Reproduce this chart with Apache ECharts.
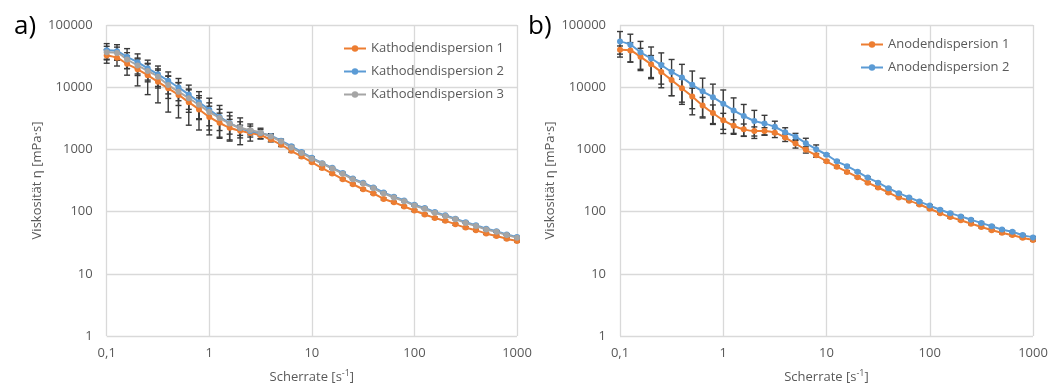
<!DOCTYPE html>
<html>
<head>
<meta charset="utf-8">
<script src="https://cdn.jsdelivr.net/npm/echarts@6/dist/echarts.min.js"></script>
<style>
  html, body { margin: 0; padding: 0; background: #fff; }
  #chart { width: 1051px; height: 389px; }
</style>
</head>
<body>
<div id="chart"></div>
<script>
// Scherrate [1/s], gleiche Messpunkte fuer alle Kurven
const shear = [0.1, 0.126, 0.158, 0.2, 0.251, 0.316, 0.398, 0.501, 0.631, 0.794,
  1, 1.26, 1.58, 2, 2.51, 3.16, 3.98, 5.01, 6.31, 7.94,
  10, 12.6, 15.8, 20, 25.1, 31.6, 39.8, 50.1, 63.1, 79.4,
  100, 126, 158, 200, 251, 316, 398, 501, 631, 794, 1000];

// a) Kathode
const kath1 = [32300, 29700, 23800, 19400, 15600, 12200, 9580, 7510, 5750, 4400,
  3330, 2670, 2230, 1990, 1840, 1690, 1440, 1190, 950, 770,
  622, 500, 410, 332, 276, 229, 196, 160, 141, 121,
  104, 90, 79, 71, 62.5, 55.3, 50.2, 44.5, 40.4, 36.6, 33.7];
const kath2 = [39200, 37800, 30800, 25300, 20100, 16100, 12700, 9930, 7600, 5750,
  4350, 3330, 2650, 2200, 1960, 1830, 1640, 1380, 1120, 905,
  735, 600, 505, 418, 340, 290, 245, 202, 174, 151,
  129, 114, 98.5, 87, 77, 67.5, 60.5, 53, 48.5, 43, 39];
const kath3 = [36500, 35600, 27900, 22400, 18200, 14700, 10800, 8480, 6650, 5210,
  4000, 3210, 2610, 2230, 2040, 1860, 1610, 1340, 1076, 874,
  710, 592, 493, 406, 330, 282, 238, 196, 169, 147,
  125, 111, 95.5, 84.7, 75, 65.6, 58.9, 51.4, 47.3, 41.9, 38];
const kath1Err = [8000, 7800, 8200, 8900, 8000, 6600, 5600, 4300, 3300, 2350,
  1620, 1160, 810, 460, 260, 200, 120, 80, 55, 40,
  25, 20, 16, 12, 10, 8, 7, 6, 5, 4.5,
  4, 3.5, 3, 2.6, 2.3, 2, 1.8, 1.6, 1.5, 1.3, 1.2];
const kath2Err = [11000, 10400, 10900, 9000, 7100, 5800, 4900, 3870, 3200, 2730,
  2300, 1760, 1290, 1010, 600, 360, 150, 80, 50, 35,
  25, 18, 14, 11, 9, 7, 6, 5, 4, 4,
  3.5, 3, 2.5, 2.2, 2, 1.8, 1.6, 1.4, 1.2, 1.1, 1];
const kath3Err = [9000, 8500, 8000, 7000, 6000, 5000, 4200, 3400, 2700, 2100,
  1600, 1200, 850, 550, 330, 220, 110, 70, 45, 30,
  22, 16, 12, 9, 7, 6, 5, 4, 3, 3,
  2.5, 2, 2, 1.5, 1.5, 1.2, 1, 1, 1, 0.8, 0.8];

// b) Anode
const anod1 = [40000, 38800, 30800, 23300, 17600, 13000, 9580, 7070, 5090, 3850,
  2950, 2400, 2100, 1970, 1970, 1860, 1550, 1240, 986, 802,
  644, 524, 435, 358, 292, 244, 203, 169, 150, 130,
  111, 94.5, 81.6, 72.4, 64, 56.7, 50.2, 45.6, 41.9, 38, 34.9];
const anod2 = [54500, 48200, 36500, 29000, 22700, 17600, 14300, 10900, 8580, 6900,
  5410, 4240, 3450, 2870, 2610, 2310, 1880, 1600, 1260, 1010,
  822, 644, 538, 437, 352, 292, 238, 198, 169, 145,
  125, 107, 94.4, 83.7, 74, 65.6, 58.2, 51.4, 47.3, 41.9, 38.5];
const anod1Err = [6000, 13300, 11400, 9000, 6400, 5700, 3830, 2560, 1760, 1330,
  850, 590, 460, 330, 260, 310, 210, 190, 113, 55,
  25, 20, 16, 12, 10, 8, 7, 6, 5, 4.5,
  4, 3.5, 3, 2.6, 2.3, 2, 1.8, 1.6, 1.5, 1.3, 1.2];
const anod2Err = [24000, 22900, 18000, 15300, 12900, 10300, 9000, 7300, 5380, 4300,
  3610, 2490, 1830, 1370, 920, 530, 350, 210, 250, 170,
  30, 22, 17, 14, 11, 9, 7, 6, 5, 4.5,
  4, 3.5, 3, 2.6, 2.3, 2, 1.8, 1.6, 1.5, 1.3, 1.2];

const ORANGE = "#ED7D31", BLUE = "#5B9BD5", GRAY = "#A5A5A5";
const TXT = "#595959", GRID = "#d9d9d9";
const FONT = "'Open Sans', sans-serif";

function pts(vals){ return shear.map((x,i)=> [x, vals[i]]); }
function errPts(vals, err){ return shear.map((x,i)=> [x, vals[i]-err[i], vals[i]+err[i]]); }

function lineSeries(name, vals, color, idx){
  return {
    name, type: "line", xAxisIndex: idx, yAxisIndex: idx,
    data: pts(vals), smooth: 0.3, showSymbol: true,
    symbol: "circle", symbolSize: 6,
    lineStyle: { color, width: 2 },
    itemStyle: { color },
    z: 3
  };
}
function errSeries(vals, err, idx){
  return {
    type: "custom", xAxisIndex: idx, yAxisIndex: idx,
    data: errPts(vals, err), z: 2, silent: true,
    renderItem: (params, api)=>{
      const x = api.value(0);
      const lo = api.coord([x, api.value(1)]);
      const hi = api.coord([x, api.value(2)]);
      const w = 3;
      const st = { stroke: "#3a3a3a", lineWidth: 1.4 };
      return { type: "group", children: [
        { type: "line", shape: { x1: lo[0], y1: lo[1], x2: hi[0], y2: hi[1] }, style: st },
        { type: "line", shape: { x1: lo[0]-w, y1: lo[1], x2: lo[0]+w, y2: lo[1] }, style: st },
        { type: "line", shape: { x1: hi[0]-w, y1: hi[1], x2: hi[0]+w, y2: hi[1] }, style: st }
      ]};
    }
  };
}

function xAx(idx){
  return {
    type: "log", gridIndex: idx, min: 0.1, max: 1000, logBase: 10,
    name: "{t|Scherrate [s}{s|-1}{t|]}", nameLocation: "middle", nameGap: 33,
    nameTextStyle: { rich: {
      t: { fontSize: 13, color: TXT, fontFamily: FONT, lineHeight: 17 },
      s: { fontSize: 9, color: TXT, fontFamily: FONT, verticalAlign: "top", lineHeight: 10 }
    }},
    axisLine: { show: false }, axisTick: { show: false },
    splitLine: { show: true, lineStyle: { color: GRID, width: 1.3 } },
    minorTick: { show: false },
    axisLabel: { color: TXT, fontSize: 13, fontFamily: FONT, margin: 11,
      formatter: v => v < 1 ? v.toFixed(1).replace(".", ",") : String(Math.round(v)) }
  };
}
function yAx(idx){
  return {
    type: "log", gridIndex: idx, min: 1, max: 100000, logBase: 10, splitNumber: 5,
    name: "Viskosität η [mPa·s]", nameLocation: "middle", nameGap: 63,
    nameTextStyle: { color: TXT, fontSize: 13, fontFamily: FONT },
    axisLine: { show: false }, axisTick: { show: false },
    splitLine: { show: true, lineStyle: { color: GRID, width: 1.3 } },
    axisLabel: { color: TXT, fontSize: 13, fontFamily: FONT, margin: 14,
      formatter: v => String(Math.round(v)) }
  };
}

const chart = echarts.init(document.getElementById("chart"));
chart.setOption({
  animation: false,
  title: [
    { text: "a)", left: 9, top: 9, textStyle: { fontSize: 26, fontWeight: "normal", color: "#000", fontFamily: FONT } },
    { text: "b)", left: 523, top: 9, textStyle: { fontSize: 26, fontWeight: "normal", color: "#000", fontFamily: FONT } }
  ],
  grid: [
    { left: 106.7, right: 534, top: 25, bottom: 48.3 },
    { left: 620, right: 18, top: 25, bottom: 48.3 }
  ],
  legend: [
    { data: ["Kathodendispersion 1", "Kathodendispersion 2", "Kathodendispersion 3"],
      orient: "vertical", left: 338, top: 35.5, itemWidth: 22, itemHeight: 8, itemGap: 7,
      textStyle: { color: TXT, fontSize: 13, fontFamily: FONT, lineHeight: 16 } },
    { data: ["Anodendispersion 1", "Anodendispersion 2"],
      orient: "vertical", left: 855, top: 31.5, itemWidth: 22, itemHeight: 8, itemGap: 7,
      textStyle: { color: TXT, fontSize: 13, fontFamily: FONT, lineHeight: 16 } }
  ],
  xAxis: [xAx(0), xAx(1)],
  yAxis: [yAx(0), yAx(1)],
  series: [
    lineSeries("Kathodendispersion 1", kath1, ORANGE, 0),
    lineSeries("Kathodendispersion 2", kath2, BLUE, 0),
    lineSeries("Kathodendispersion 3", kath3, GRAY, 0),
    errSeries(kath1, kath1Err, 0),
    errSeries(kath2, kath2Err, 0),
    errSeries(kath3, kath3Err, 0),
    lineSeries("Anodendispersion 1", anod1, ORANGE, 1),
    lineSeries("Anodendispersion 2", anod2, BLUE, 1),
    errSeries(anod1, anod1Err, 1),
    errSeries(anod2, anod2Err, 1)
  ]
});
</script>
</body>
</html>
